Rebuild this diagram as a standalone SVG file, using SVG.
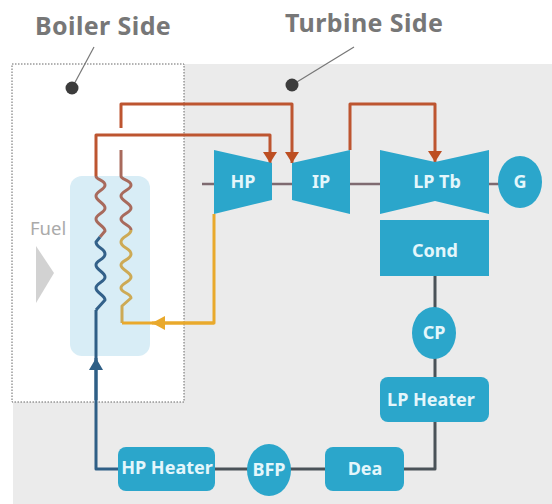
<svg xmlns="http://www.w3.org/2000/svg" width="552" height="504" viewBox="0 0 552 504">
<style>
text{font-family:"Noto Sans","DejaVu Sans",sans-serif;font-weight:700}
.n{fill:#2ba6cb}
.t{fill:#e4f6fb;font-size:18px;text-anchor:middle}
.h{fill:#777;font-size:25px;letter-spacing:.4px}
.l{fill:none;stroke-linejoin:round}
.r{stroke:#bd5530;stroke-width:3}
.y{stroke:#e9a92c;stroke-width:3}
.b{stroke:#2f5f86;stroke-width:3}
.k{stroke:#4a5258;stroke-width:3}
.s{stroke:#7e6a70;stroke-width:2.5}
.c{stroke:#a86a5c;stroke-width:3}
.cy{stroke:#cdaa55;stroke-width:3}
.cb{stroke:#33618a;stroke-width:3}
.p{stroke:#777;stroke-width:1.2}
</style>
<defs>
<marker id="ar" markerUnits="userSpaceOnUse" markerWidth="12" markerHeight="14" refX="11" refY="7" orient="auto"><path d="M0 0L11 7L0 14Z" fill="#bd4f22"/></marker>
<marker id="ay" markerUnits="userSpaceOnUse" markerWidth="14" markerHeight="14" refX="13" refY="7" orient="auto"><path d="M0 0L13 7L0 14Z" fill="#e9a92c"/></marker>
<marker id="ab" markerUnits="userSpaceOnUse" markerWidth="13" markerHeight="14" refX="12" refY="7" orient="auto"><path d="M0 0L12 7L0 14Z" fill="#2f5f86"/></marker>
</defs>
<rect x="13" y="64" width="539" height="440" fill="#ebebeb"/>
<rect id="boiler-area" x="12" y="64" width="172" height="338" fill="#fff" stroke="#666" stroke-width="1" stroke-dasharray="1.5 1.5"/>
<rect id="furnace" x="70" y="176" width="80" height="180" rx="12" fill="#d8edf6"/>
<g id="boiler-side"><text class="h" x="35" y="35">Boiler Side</text><path class="p" d="M94 47L72 88"/><circle cx="72" cy="88" r="6.5" fill="#3c3c3c"/></g>
<g id="turbine-side"><text class="h" x="285" y="32">Turbine Side</text><path class="p" d="M354 47L292 85"/><circle cx="292" cy="85" r="6.5" fill="#3c3c3c"/></g>
<g id="fuel"><text x="30" y="235" font-size="18.5" style="font-weight:400" fill="#aaa">Fuel</text><path d="M36 246L54 273L36 303Z" fill="#d2d2d2"/></g>
<g id="connectors">
<path class="l s" d="M202 184H500"/>
<path class="l r" d="M121 128V104H292V163" marker-end="url(#ar)"/>
<path class="l r" d="M96 176V135H270V163" marker-end="url(#ar)"/>
<path class="l r" d="M350 150V104H435V162" marker-end="url(#ar)"/>
<path class="l c" d="M121 150V176"/>
<path class="l c" d="M96 176C96 180 105 180 105 185S96 191 96 196S105 203 105 208S96 214 96 219S105 226 105 231L100 237"/>
<path class="l cb" d="M100 237L96 242C96 248 105 248 105 254S96 260 96 265S105 272 105 277S96 283 96 288S105 295 105 300L96 310"/>
<path class="l c" d="M121 176C121 180 131 180 131 185S121 191 121 196S131 203 131 208S121 214 121 219S131 225 131 230"/>
<path class="l cy" d="M131 230C131 236 121 236 121 242S131 248 131 254S121 260 121 265S131 272 131 277S121 283 121 288S131 293 131 298L122 306V323"/>
<path class="l y" d="M214 214V323H122"/>
<path class="l y" d="M214 323H152" marker-end="url(#ay)"/>
<path class="l b" d="M118 469H96V310"/>
<path class="l b" d="M96 400V358" marker-end="url(#ab)"/>
<path class="l k" d="M435 276V377M435 422V469H404M325 469H214"/>
</g>
<g id="hp"><path class="n" d="M214 150L272 163V200L214 214Z"/><text class="t" x="243" y="188">HP</text></g>
<g id="ip"><path class="n" d="M292 163L350 150V214L292 200Z"/><text class="t" x="321" y="188">IP</text></g>
<g id="lp-tb"><path class="n" d="M380 150L435 162L489 150V214L435 201L380 214Z"/><text class="t" x="437" y="188">LP Tb</text></g>
<g id="g"><ellipse class="n" cx="520" cy="182" rx="22" ry="26"/><text class="t" x="520" y="188">G</text></g>
<g id="cond"><rect class="n" x="380" y="220" width="109" height="56"/><text class="t" x="435" y="257">Cond</text></g>
<g id="cp"><ellipse class="n" cx="434" cy="333" rx="22" ry="26"/><text class="t" x="434" y="339">CP</text></g>
<g id="lp-heater"><rect class="n" x="380" y="377" width="109" height="45" rx="8"/><text class="t" x="431" y="406">LP Heater</text></g>
<g id="dea"><rect class="n" x="325" y="447" width="79" height="44" rx="8"/><text class="t" x="365" y="475">Dea</text></g>
<g id="bfp"><ellipse class="n" cx="269" cy="470" rx="22" ry="26"/><text class="t" x="269" y="476">BFP</text></g>
<g id="hp-heater"><rect class="n" x="118" y="447" width="97" height="44" rx="8"/><text class="t" x="167" y="474">HP Heater</text></g>
</svg>
